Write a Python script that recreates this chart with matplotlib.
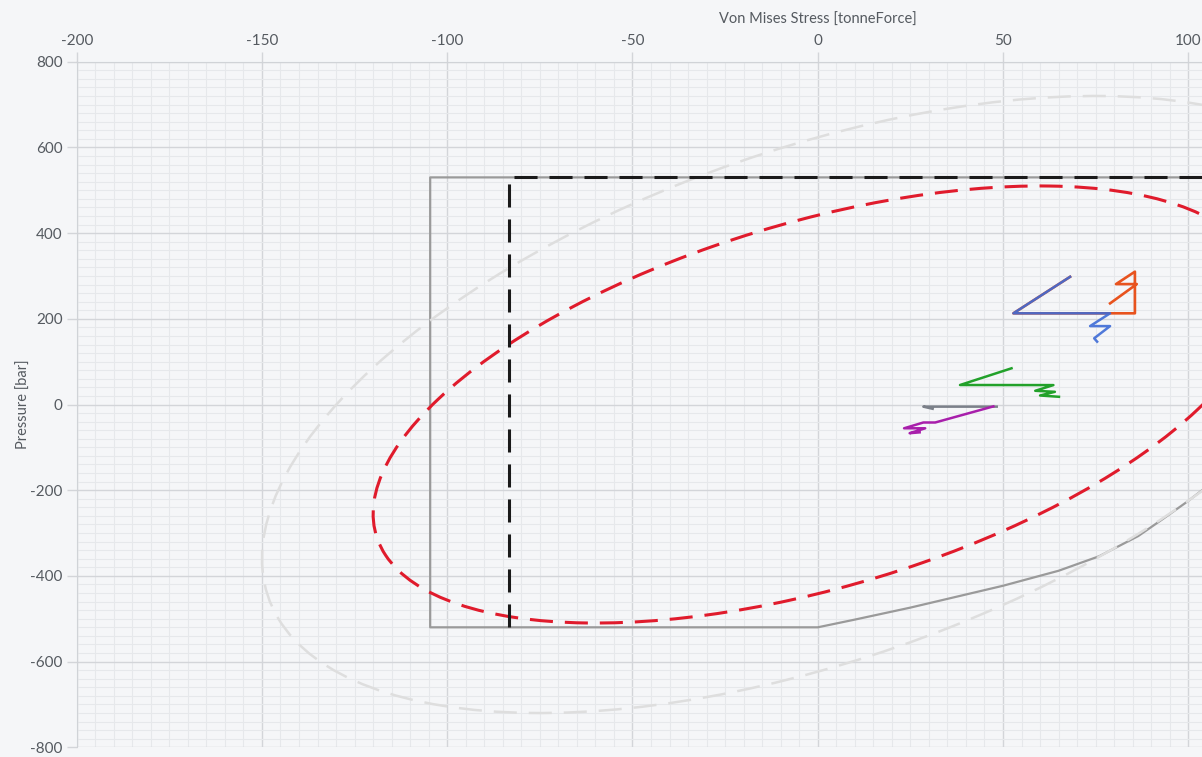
import matplotlib
matplotlib.use("Agg")
import matplotlib.pyplot as plt
import numpy as np
from matplotlib.patches import Ellipse
from matplotlib.ticker import MultipleLocator

plt.rcParams["font.family"] = ["Lato", "DejaVu Sans"]
plt.rcParams["lines.scale_dashes"] = False
plt.rcParams["axes.unicode_minus"] = False

# Operating envelope (von Mises stress vs pressure)
envelope_x = [200, -104.6, -104.6, 0, 10, 25, 50, 65, 76, 86.5, 93, 100, 106]
envelope_y = [530, 530, -520, -520, -502, -474, -423, -388, -354, -307, -268, -225, -185]

# Derated limit
limit_x = [-83.3, -83.3, 200]
limit_y = [-520, 530, 530]

# Ellipses: half range in x, half range in y, correlation
inner_ellipse = (120, 510, 0.5)
outer_ellipse = (150, 720, 0.5)

# Load cases
orange_x = [78.9, 86.1, 80.5, 85.6, 85.6, 52.8, 68.1]
orange_y = [236, 281, 281, 310, 212.8, 212.8, 298]
blue_x = [68.1, 52.8, 78.9, 73.5, 78.9, 74.6, 75.4]
blue_y = [298, 212.8, 212.8, 183, 183, 154.5, 146.6]
green_x = [52.3, 38.4, 63.6, 58.7, 64.0, 60.0, 65.1]
green_y = [84.5, 45.5, 45.3, 32, 29.6, 21, 18]
gray_x = [48.3, 28.5, 31.0]
gray_y = [-5, -5, -10]
purple_x = [47.4, 31.7, 28.5, 23.3, 29.0, 24.8, 27.5]
purple_y = [-4.4, -42, -42, -55.5, -55.5, -67, -65]

DASH = (0, (16.6, 8.6))
BG = "#f5f6f8"
TEXT = "#555a60"


def ellipse_patch(half_x, half_y, rho, **kw):
    cov = np.array([[half_x ** 2, rho * half_x * half_y],
                    [rho * half_x * half_y, half_y ** 2]])
    vals, vecs = np.linalg.eigh(cov)
    angle = np.degrees(np.arctan2(vecs[1, 1], vecs[0, 1]))
    return Ellipse((0, 0), 2 * np.sqrt(vals[1]), 2 * np.sqrt(vals[0]),
                   angle=angle, fill=False, **kw)


fig = plt.figure(figsize=(12.02, 7.57), dpi=100, facecolor=BG)
# axes run past the right edge of the figure (x goes to +200)
ax = fig.add_axes([76.7 / 1202, 9.7 / 757, 1482.1 / 1202, 685.6 / 757])
ax.set_facecolor(BG)
ax.set_xlim(-200, 200)
ax.set_ylim(-800, 800)

ax.xaxis.set_major_locator(MultipleLocator(50))
ax.xaxis.set_minor_locator(MultipleLocator(5))
ax.yaxis.set_major_locator(MultipleLocator(200))
ax.yaxis.set_minor_locator(MultipleLocator(20))
ax.grid(which="major", color="#d3d5d9", lw=1.0)
ax.grid(which="minor", color="#e6e8eb", lw=0.8)
ax.set_axisbelow(True)

ax.xaxis.tick_top()
ax.xaxis.set_label_position("top")
ax.tick_params(which="major", length=7, width=1, color="#d3d5d9",
               labelsize=11, labelcolor=TEXT, pad=3)
ax.tick_params(which="minor", length=0)
for side in ["bottom", "right"]:
    ax.spines[side].set_visible(False)
for side in ["top", "left"]:
    ax.spines[side].set_color("#d0d3d7")

ax.set_xlabel("Von Mises Stress [tonneForce]", fontsize=10.5, color=TEXT, labelpad=7.5)
ax.set_ylabel("Pressure [bar]", fontsize=10.5, color=TEXT, labelpad=0)

ax.plot(envelope_x, envelope_y, color="#9a9a9a", lw=1.6, zorder=2)
ax.add_patch(ellipse_patch(*outer_ellipse, edgecolor="#dedede", lw=1.8,
                           linestyle=DASH, zorder=3))
ax.add_patch(ellipse_patch(*inner_ellipse, edgecolor="#e01b2c", lw=2.2,
                           linestyle=DASH, zorder=4))
ax.plot(limit_x, limit_y, color="#1a1a1a", lw=2.2, linestyle=DASH, zorder=5)

ax.plot(gray_x, gray_y, color="#7b8089", lw=1.8, zorder=6)
ax.plot(purple_x, purple_y, color="#a81fab", lw=1.8, zorder=7)
ax.plot(green_x, green_y, color="#22a12a", lw=1.8, zorder=7)
ax.plot(orange_x, orange_y, color="#e8531e", lw=1.9, zorder=8)
ax.plot(blue_x, blue_y, color="#3d6bd6", lw=1.8, alpha=0.9, zorder=9)

fig.savefig("out.png", dpi=100, facecolor=BG)
